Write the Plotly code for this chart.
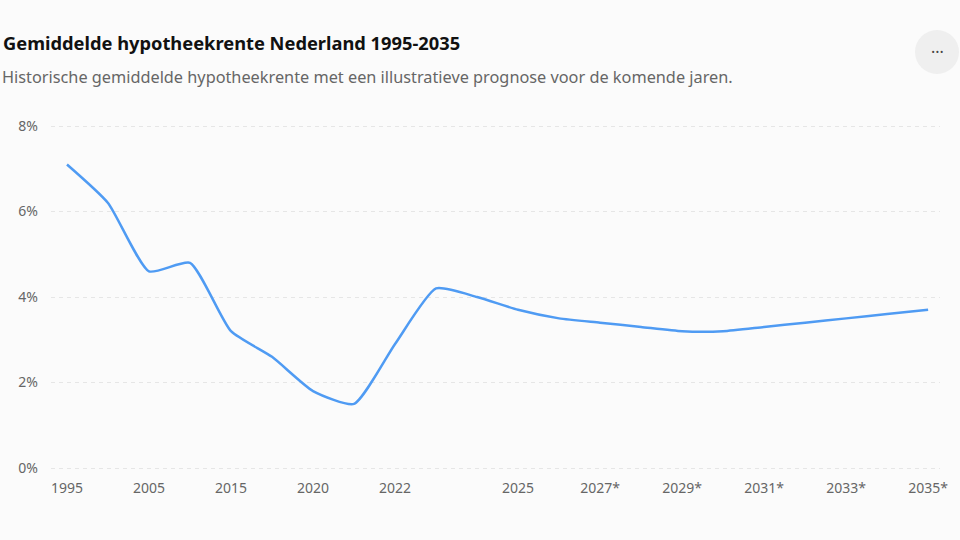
import plotly.graph_objects as go

years = ["1995", "2000", "2005", "2010", "2015", "2018", "2020", "2021", "2022", "2023",
         "2024", "2025", "2026*", "2027*", "2028*", "2029*", "2030*", "2031*", "2032*",
         "2033*", "2034*", "2035*"]
rates = [7.1, 6.2, 4.6, 4.8, 3.2, 2.6, 1.8, 1.5, 2.9, 4.2,
         4.0, 3.7, 3.5, 3.4, 3.3, 3.2, 3.2, 3.3, 3.4,
         3.5, 3.6, 3.7]
tick_years = ["1995", "2005", "2015", "2020", "2022", "2025", "2027*", "2029*", "2031*", "2033*", "2035*"]
y_ticks = [0, 2, 4, 6, 8]
y_labels = ["0%", "2%", "4%", "6%", "8%"]

title = "Gemiddelde hypotheekrente Nederland 1995-2035"
subtitle = "Historische gemiddelde hypotheekrente met een illustratieve prognose voor de komende jaren."

FONT = "Noto Sans, Open Sans, sans-serif"
BG = "#fbfbfb"

# plot area in pixels
L, R, T, B = 51, 940, 124, 470
PW, PH = R - L, B - T
pad = 2 / 42.75


def px(x):
    return (x - L) / PW


def py(y):
    return (B - y) / PH


fig = go.Figure()
fig.add_trace(go.Scatter(
    x=years, y=rates, mode="lines",
    line=dict(color="#4f9bf3", width=2.5, shape="spline", smoothing=0.55),
    hovertemplate="%{x}: %{y:.1f}%<extra></extra>",
))

fig.update_layout(
    width=960, height=540,
    paper_bgcolor=BG, plot_bgcolor=BG,
    margin=dict(l=L, r=960 - R, t=T, b=540 - B, pad=0),
    showlegend=False,
    font=dict(family=FONT, size=14, color="#666666"),
    xaxis=dict(
        type="category", range=[-0.39, 21.29],
        tickmode="array", tickvals=tick_years, ticktext=tick_years,
        showgrid=False, zeroline=False, showline=False, ticks="",
        ticklabelstandoff=8,
        tickfont=dict(size=14, color="#666666"),
    ),
    yaxis=dict(
        range=[-pad, 8 + pad], tickmode="array", tickvals=y_ticks, ticktext=y_labels,
        showgrid=True, gridcolor="#e6e6e6", griddash="4px,4px", gridwidth=1,
        zeroline=False, showline=False, ticks="", ticklabelstandoff=12,
        tickfont=dict(size=14, color="#666666"),
    ),
    annotations=[
        dict(text="<b>" + title + "</b>", xref="paper", yref="paper",
             x=px(1), y=py(43), xanchor="left", yanchor="middle",
             showarrow=False, font=dict(family=FONT, size=18.3, color="#111111")),
        dict(text=subtitle, xref="paper", yref="paper",
             x=px(0), y=py(77), xanchor="left", yanchor="middle",
             showarrow=False, font=dict(family=FONT, size=16.3, color="#666666")),
        dict(text="···", xref="paper", yref="paper",
             x=px(937), y=py(52), xanchor="center", yanchor="middle",
             showarrow=False, font=dict(family=FONT, size=16, color="#444444")),
    ],
    shapes=[
        dict(type="circle", xref="paper", yref="paper",
             x0=px(915), x1=px(959), y0=py(74), y1=py(30),
             fillcolor="#efefef", line=dict(width=0), layer="below"),
    ],
)

fig.write_html("out.html", config={"displayModeBar": False},
               post_script="document.body.style.margin='0';document.body.style.background='#fbfbfb';")
